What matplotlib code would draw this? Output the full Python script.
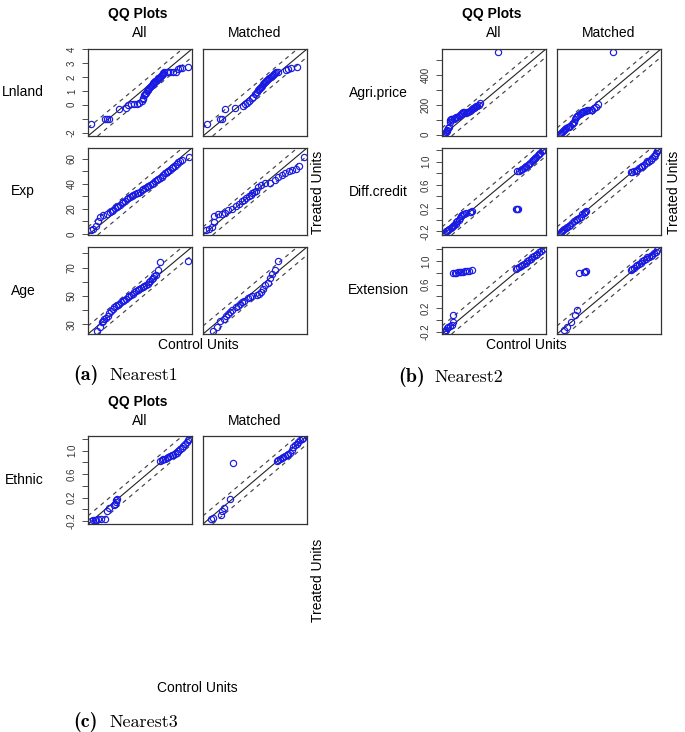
import matplotlib.pyplot as plt

plt.rcParams['font.family'] = ['Liberation Sans', 'DejaVu Sans']

# QQ points: (control quantile, treated quantile)
lnland_all = [(-2.08, -1.38), (-1.22, -1.02), (-1.10, -1.02), (-0.98, -1.02), (-0.36, -0.33), (0.02, -0.21),
              (0.18, -0.02), (0.34, 0.03), (0.50, 0.06), (0.68, 0.08), (0.84, 0.10), (0.98, 0.27), (1.04, 0.40),
              (1.08, 0.51), (1.14, 0.70), (1.19, 0.79), (1.24, 0.87), (1.29, 0.97), (1.34, 1.06), (1.39, 1.15),
              (1.44, 1.23), (1.49, 1.30), (1.54, 1.37), (1.59, 1.45), (1.64, 1.51), (1.69, 1.56), (1.74, 1.61),
              (1.79, 1.67), (1.84, 1.73), (1.89, 1.78), (1.94, 1.83), (1.99, 1.89), (2.04, 1.94), (2.09, 2.02),
              (2.14, 2.09), (2.19, 2.16), (2.24, 2.23), (2.29, 2.29), (2.34, 2.35), (2.48, 2.37), (2.58, 2.37),
              (2.68, 2.37), (2.88, 2.33), (3.02, 2.33), (3.18, 2.57), (3.30, 2.66), (3.38, 2.61), (3.74, 2.69)]
lnland_matched = [(-2.02, -1.40), (-1.22, -1.02), (-1.08, -1.02), (-0.92, -0.30), (-0.32, -0.21), (0.18, -0.09),
                  (0.28, 0.03), (0.42, 0.10), (0.54, 0.27), (0.68, 0.51), (0.78, 0.58), (0.88, 0.75), (0.98, 0.94),
                  (1.05, 1.03), (1.12, 1.13), (1.18, 1.19), (1.24, 1.25), (1.31, 1.36), (1.38, 1.47), (1.44, 1.54),
                  (1.50, 1.61), (1.56, 1.70), (1.62, 1.78), (1.68, 1.85), (1.74, 1.92), (1.81, 2.00), (1.88, 2.09),
                  (1.94, 2.16), (2.00, 2.23), (2.06, 2.30), (2.12, 2.37), (2.28, 2.37), (2.76, 2.49), (2.88, 2.57),
                  (3.02, 2.66), (3.40, 2.69)]

exp_all = [(1.2, 2.8), (2.8, 3.9), (4.3, 6.5), (5.7, 10.6), (7.2, 13.2), (9.4, 15.0), (11.7, 16.3), (13.9, 17.6),
           (15.0, 18.6), (16.1, 19.5), (17.2, 20.5), (18.3, 21.5), (19.5, 22.4), (20.6, 23.4), (21.7, 24.4),
           (22.8, 25.4), (23.9, 26.7), (25.0, 28.0), (26.1, 29.0), (27.2, 29.9), (28.3, 30.6), (29.4, 31.2),
           (30.5, 31.9), (31.7, 32.5), (32.8, 33.1), (33.9, 33.8), (35.0, 34.8), (36.1, 35.9), (37.2, 36.8),
           (38.3, 37.7), (39.4, 38.5), (40.6, 39.2), (41.7, 40.1), (42.8, 41.0), (43.9, 42.0), (45.0, 42.9),
           (46.1, 43.6), (47.2, 44.4), (48.4, 45.7), (49.5, 47.0), (50.6, 48.3), (51.7, 49.6), (52.8, 50.5),
           (53.9, 51.4), (55.0, 52.3), (56.1, 53.3), (57.3, 54.6), (58.4, 55.9), (59.5, 57.2), (60.6, 58.5),
           (62.1, 59.2), (66.4, 61.8)]
exp_matched = [(1.0, 2.8), (3.2, 3.9), (5.0, 5.4), (6.3, 9.8), (6.8, 14.5), (9.0, 15.6), (11.7, 15.6), (13.9, 16.9),
               (16.1, 19.0), (18.3, 20.2), (21.0, 22.1), (23.2, 24.1), (25.4, 26.2), (26.5, 27.5), (27.7, 28.8),
               (29.9, 30.6), (31.0, 31.5), (32.1, 32.5), (33.2, 33.5), (34.3, 34.5), (36.1, 37.1), (37.9, 39.2),
               (40.6, 40.3), (43.9, 41.0), (47.2, 42.9), (49.5, 45.5), (51.7, 47.0), (53.9, 48.8), (56.6, 50.1),
               (58.8, 51.4), (61.0, 52.2), (63.3, 54.0), (66.4, 61.3)]

age_all = [(28.4, 25.2), (30.3, 27.9), (31.3, 31.6), (32.1, 32.5), (32.9, 33.5), (33.9, 34.6), (34.9, 35.8),
           (35.8, 37.8), (36.8, 39.7), (37.8, 40.9), (38.8, 42.1), (39.7, 42.9), (40.7, 43.7), (41.7, 44.6),
           (42.7, 45.5), (43.6, 46.5), (44.6, 47.4), (45.6, 48.2), (46.6, 49.0), (47.6, 49.8), (48.6, 50.6),
           (49.5, 51.6), (50.5, 52.5), (51.5, 53.3), (52.5, 54.1), (53.4, 54.9), (54.4, 55.7), (55.4, 56.4),
           (56.4, 57.1), (57.3, 57.9), (58.3, 58.7), (59.1, 59.7), (59.9, 60.6), (60.7, 61.8), (61.5, 62.9),
           (62.2, 63.7), (63.0, 64.5), (64.6, 68.2), (65.6, 73.8), (81.8, 74.5)]
age_matched = [(29.4, 25.2), (31.7, 27.9), (33.3, 32.1), (35.8, 34.0), (37.0, 35.7), (38.2, 37.4), (39.2, 38.9),
               (40.1, 40.4), (42.5, 42.1), (43.7, 43.3), (45.0, 44.4), (46.3, 45.6), (47.6, 46.7), (49.9, 48.3),
               (51.1, 49.0), (52.3, 49.7), (54.8, 50.8), (56.1, 51.7), (57.4, 52.5), (58.7, 54.8), (59.7, 57.6),
               (61.3, 59.4), (62.7, 62.9), (64.0, 65.2), (65.6, 68.2), (67.5, 74.5)]

agri_all = [(3, 1), (7, 8), (11, 15), (16, 23), (20, 30), (25, 41), (29, 52), (33, 81), (36, 95), (39, 104),
            (44, 104), (48, 104), (55, 106), (63, 108), (70, 114), (76, 120), (83, 126), (89, 131), (95, 139),
            (100, 146), (108, 153), (115, 148), (123, 142), (130, 148), (138, 153), (145, 158), (151, 164),
            (158, 170), (164, 175), (170, 180), (175, 184), (182, 188), (188, 193), (195, 201), (201, 209),
            (302, 555)]
agri_matched = [(5, 1), (10, 8), (16, 15), (22, 23), (29, 30), (35, 36), (42, 41), (50, 47), (57, 52), (65, 60),
                (72, 68), (78, 75), (85, 81), (92, 105), (98, 120), (104, 126), (110, 131), (117, 137), (123, 142),
                (130, 148), (136, 153), (144, 156), (151, 158), (160, 161), (169, 164), (178, 164), (188, 164),
                (197, 175), (207, 186), (218, 202), (304, 555)]

diff_all = [(-0.211, -0.201), (-0.192, -0.192), (-0.173, -0.184), (-0.156, -0.163), (-0.139, -0.143),
            (-0.122, -0.123), (-0.105, -0.103), (-0.086, -0.086), (-0.067, -0.069), (-0.055, -0.048),
            (-0.043, -0.028), (-0.026, 0.000), (-0.009, 0.029), (0.005, 0.058), (0.020, 0.087), (0.037, 0.096),
            (0.053, 0.104), (0.077, 0.115), (0.135, 0.127), (0.155, 0.136), (0.174, 0.144), (0.805, 0.184),
            (0.815, 0.184), (0.827, 0.184), (0.823, 0.834), (0.847, 0.848), (0.871, 0.862), (0.895, 0.876),
            (0.919, 0.891), (0.936, 0.905), (0.953, 0.920), (0.972, 0.943), (0.991, 0.966), (1.010, 0.986),
            (1.029, 1.006), (1.046, 1.026), (1.063, 1.046), (1.080, 1.063), (1.097, 1.081), (1.116, 1.110),
            (1.135, 1.138), (1.155, 1.158), (1.174, 1.179), (1.190, 1.193), (1.207, 1.207)]
diff_matched = [(-0.211, -0.218), (-0.194, -0.201), (-0.177, -0.184), (-0.158, -0.163), (-0.139, -0.143),
                (-0.115, -0.129), (-0.091, -0.115), (-0.072, -0.086), (-0.052, -0.057), (-0.019, -0.028),
                (0.005, -0.008), (0.029, 0.012), (0.053, 0.029), (0.077, 0.046), (0.101, 0.104), (0.120, 0.115),
                (0.140, 0.127), (0.159, 0.144), (0.799, 0.816), (0.823, 0.825), (0.847, 0.834), (0.871, 0.848),
                (0.895, 0.862), (0.919, 0.885), (0.943, 0.908), (0.967, 0.929), (0.991, 0.949), (1.015, 0.978),
                (1.039, 1.006), (1.063, 1.015), (1.087, 1.023), (1.111, 1.058), (1.135, 1.092), (1.152, 1.121),
                (1.169, 1.150), (1.184, 1.179), (1.198, 1.207)]

ext_all = [(-0.212, -0.211), (-0.195, -0.191), (-0.178, -0.171), (-0.164, -0.143), (-0.150, -0.114),
           (-0.126, -0.100), (-0.102, -0.085), (-0.083, -0.028), (-0.083, 0.087), (-0.083, 0.804),
           (-0.060, 0.804), (-0.036, 0.804), (-0.012, 0.810), (0.011, 0.816), (0.035, 0.816), (0.059, 0.816),
           (0.090, 0.825), (0.121, 0.833), (0.150, 0.838), (0.182, 0.844), (0.808, 0.861), (0.832, 0.882),
           (0.856, 0.902), (0.880, 0.919), (0.903, 0.936), (0.927, 0.956), (0.951, 0.976), (0.975, 0.996),
           (0.998, 1.016), (1.022, 1.039), (1.046, 1.062), (1.070, 1.085), (1.093, 1.108), (1.117, 1.128),
           (1.140, 1.148), (1.168, 1.177), (1.197, 1.206)]
ext_matched = [(-0.140, -0.171), (-0.093, -0.114), (-0.045, -0.028), (0.016, 0.087), (0.040, 0.173),
               (0.073, 0.804), (0.144, 0.816), (0.160, 0.822), (0.177, 0.827), (0.808, 0.844), (0.832, 0.867),
               (0.856, 0.890), (0.880, 0.913), (0.903, 0.936), (0.927, 0.956), (0.951, 0.976), (0.975, 0.996),
               (0.998, 1.016), (1.022, 1.039), (1.046, 1.062), (1.070, 1.076), (1.093, 1.091), (1.117, 1.111),
               (1.140, 1.131), (1.164, 1.160), (1.188, 1.188)]

ethnic_all = [(-0.207, -0.193), (-0.178, -0.188), (-0.149, -0.182), (-0.130, -0.176), (-0.111, -0.171),
              (-0.062, -0.171), (-0.005, -0.159), (0.019, -0.034), (0.053, 0.023), (0.130, 0.068), (0.140, 0.097),
              (0.149, 0.125), (0.161, 0.153), (0.173, 0.182), (0.789, 0.818), (0.813, 0.835), (0.837, 0.852),
              (0.861, 0.863), (0.885, 0.875), (0.909, 0.892), (0.933, 0.909), (0.957, 0.920), (0.981, 0.932),
              (1.005, 0.949), (1.029, 0.966), (1.053, 0.995), (1.077, 1.023), (1.101, 1.052), (1.125, 1.080),
              (1.149, 1.114), (1.173, 1.148), (1.190, 1.176), (1.207, 1.205)]
ethnic_matched = [(-0.135, -0.171), (-0.101, -0.148), (0.010, -0.091), (0.029, -0.034), (0.058, 0.023),
                  (0.139, 0.182), (0.188, 0.795), (0.813, 0.818), (0.837, 0.835), (0.861, 0.852), (0.885, 0.872),
                  (0.909, 0.892), (0.933, 0.906), (0.957, 0.920), (0.981, 0.943), (1.005, 0.966), (1.029, 1.014),
                  (1.053, 1.062), (1.077, 1.090), (1.101, 1.119), (1.125, 1.147), (1.149, 1.176), (1.173, 1.196),
                  (1.197, 1.216)]

# axis ranges and ticks per variable
lnland_lim, lnland_ticks = (-2.24, 4.0), [-2, -1, 0, 1, 2, 3, 4]
lnland_labels = ['-2', '', '0', '1', '2', '3', '4']
exp_lim, exp_ticks = (-0.8, 68.6), [0, 10, 20, 30, 40, 50, 60]
exp_labels = ['0', '', '20', '', '40', '', '60']
age_lim, age_ticks = (23.3, 84.4), [30, 40, 50, 60, 70, 80]
age_labels = ['30', '', '50', '', '70', '']
agri_lim, agri_ticks = (-10, 573), [0, 100, 200, 300, 400, 500]
agri_labels = ['0', '', '200', '', '400', '']
prop_ticks = [-0.2, 0.0, 0.2, 0.4, 0.6, 0.8, 1.0, 1.2]
prop_labels = ['-0.2', '', '0.2', '', '0.6', '', '1.0', '']
diff_lim = (-0.264, 1.236)
ext_lim = (-0.24, 1.24)
ethnic_lim = (-0.25, 1.25)

W, H = 685, 732
fig = plt.figure(figsize=(W / 100, H / 100), dpi=100)


def add_ax(x0, y0, w, h):
    return fig.add_axes([x0 / W, 1 - (y0 + h) / H, w / W, h / H])


def qq(ax, pts, lim, ticks, labels, show_y):
    xs = [p[0] for p in pts]
    ys = [p[1] for p in pts]
    ax.set_xlim(lim)
    ax.set_ylim(lim)
    off = 0.1 * (lim[1] - lim[0]) / 1.08
    ax.axline((lim[0], lim[0]), slope=1, color='#222222', lw=0.8)
    for d in (off, -off):
        ax.axline((lim[0], lim[0] + d), slope=1, color='#444444', lw=0.85, ls=(0, (3.5, 3.5)))
    ax.plot(xs, ys, 'o', mfc='none', mec='#1a1ae6', mew=0.85, ms=4.5)
    ax.set_xticks([])
    if show_y:
        ax.set_yticks(ticks)
        ax.set_yticklabels(labels, rotation=90, va='center', fontsize=7, color='#333333')
        ax.tick_params(axis='y', length=4, width=0.6, pad=4, color='#333333')
    else:
        ax.set_yticks([])
    for s in ax.spines.values():
        s.set_linewidth(0.9)
        s.set_color('#333333')


def panel(x_all, x_match, x_name, tops, h, rows, head_y, treated_x, treated_y, control_x, control_y):
    fig.text((x_all + 50) / W, 1 - head_y / H, 'QQ Plots',
             ha='center', va='center', fontsize=10, fontweight='bold')
    fig.text((x_all + 52) / W, 1 - (head_y + 19) / H, 'All', ha='center', va='center', fontsize=10)
    fig.text((x_match + 52) / W, 1 - (head_y + 19) / H, 'Matched', ha='center', va='center', fontsize=10)
    for top, (name, a, m, lim, ticks, labels) in zip(tops, rows):
        qq(add_ax(x_all, top, 104, h), a, lim, ticks, labels, True)
        qq(add_ax(x_match, top, 104, h), m, lim, ticks, labels, False)
        fig.text(x_name / W, 1 - (top + h / 2) / H, name, ha='center', va='center', fontsize=10)
    fig.text(treated_x / W, 1 - treated_y / H, 'Treated Units', ha='center', va='center',
             rotation=90, fontsize=10)
    fig.text(control_x / W, 1 - control_y / H, 'Control Units', ha='center', va='center', fontsize=10)


panel(88, 203, 23, [49, 148, 247], 87,
      [('Lnland', lnland_all, lnland_matched, lnland_lim, lnland_ticks, lnland_labels),
       ('Exp', exp_all, exp_matched, exp_lim, exp_ticks, exp_labels),
       ('Age', age_all, age_matched, age_lim, age_ticks, age_labels)],
      14, 318, 192, 198, 345)

panel(442, 557, 378, [49, 148, 247], 87,
      [('Agri.price', agri_all, agri_matched, agri_lim, agri_ticks, agri_labels),
       ('Diff.credit', diff_all, diff_matched, diff_lim, prop_ticks, prop_labels),
       ('Extension', ext_all, ext_matched, ext_lim, prop_ticks, prop_labels)],
      14, 674, 192, 526, 345)

panel(88, 203, 24, [436], 88,
      [('Ethnic', ethnic_all, ethnic_matched, ethnic_lim, prop_ticks, prop_labels)],
      402, 318, 580, 197, 688)

# sub-figure captions
captions = [('(a)', 'Nearest1', 73, 375), ('(b)', 'Nearest2', 398, 377), ('(c)', 'Nearest3', 73, 722)]
for tag, name, cx, cy in captions:
    fig.text(cx / W, 1 - cy / H, tag, ha='left', va='center', fontsize=14.5, family='cmb10')
    fig.text((cx + 36) / W, 1 - cy / H, name, ha='left', va='center', fontsize=13, family='cmr10')

fig.savefig('out.png', dpi=100, facecolor='white')
